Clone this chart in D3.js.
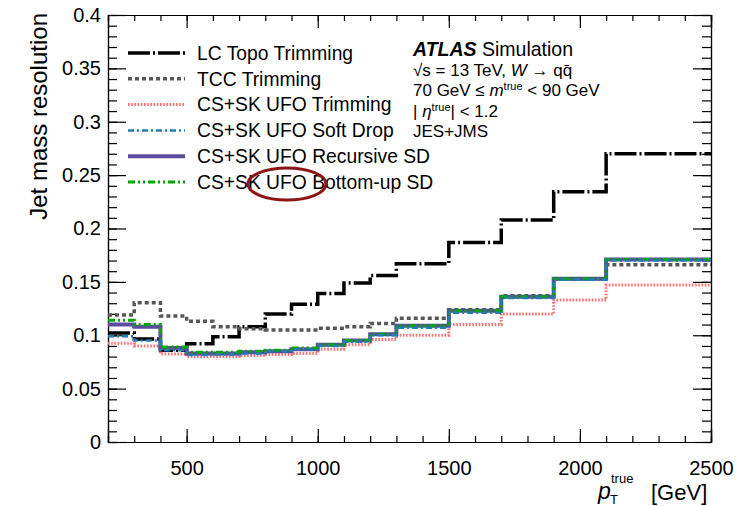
<!DOCTYPE html>
<html>
<head>
<meta charset="utf-8">
<script src="https://d3js.org/d3.v7.min.js"></script>
<style>
  body { margin: 0; background: #fff; }
  text { font-family: "Liberation Sans", Arial, sans-serif; fill: #000; }
</style>
</head>
<body>
<svg class="chart" width="750" height="506"></svg>
<script>
// bin edges in pT (GeV)
var binEdges = [200, 300, 400, 500, 600, 700, 800, 900, 1000, 1100, 1200, 1300, 1500, 1700, 1900, 2100, 2500];

// jet mass resolution per bin
var lcTopoTrim   = [0.102, 0.0965, 0.086, 0.092, 0.0985, 0.108, 0.120, 0.129, 0.139, 0.149, 0.156, 0.167, 0.187, 0.208, 0.2345, 0.270];
var tccTrim      = [0.119, 0.1305, 0.118, 0.113, 0.108, 0.106, 0.105, 0.105, 0.1065, 0.108, 0.111, 0.116, 0.124, 0.137, 0.153, 0.166];
var ufoTrim      = [0.0925, 0.090, 0.0825, 0.080, 0.080, 0.081, 0.082, 0.083, 0.087, 0.091, 0.096, 0.100, 0.110, 0.120, 0.133, 0.147];
var ufoSoftDrop  = [0.099, 0.095, 0.086, 0.0815, 0.082, 0.083, 0.085, 0.087, 0.090, 0.094, 0.100, 0.107, 0.121, 0.135, 0.152, 0.170];
var ufoRecSD     = [0.110, 0.108, 0.088, 0.083, 0.083, 0.084, 0.085, 0.087, 0.091, 0.095, 0.101, 0.109, 0.123, 0.136, 0.153, 0.171];
var ufoBottomUp  = [0.114, 0.110, 0.089, 0.084, 0.084, 0.085, 0.086, 0.088, 0.091, 0.095, 0.101, 0.109, 0.123, 0.136, 0.153, 0.171];

var seriesNames = ["LC Topo Trimming", "TCC Trimming", "CS+SK UFO Trimming", "CS+SK UFO Soft Drop", "CS+SK UFO Recursive SD", "CS+SK UFO Bottom-up SD"];

var xTicks = [500, 1000, 1500, 2000, 2500];
var yTicks = [0, 0.05, 0.1, 0.15, 0.2, 0.25, 0.3, 0.35, 0.4];

var series = [
  { name: seriesNames[0], values: lcTopoTrim,  color: "#000000", width: 3.5, dash: "22 3 2 3" },
  { name: seriesNames[1], values: tccTrim,     color: "#575757", width: 3.5, dash: "4 3" },
  { name: seriesNames[2], values: ufoTrim,     color: "#ff6f6f", width: 3,   dash: "1.6 1.6" },
  { name: seriesNames[4], values: ufoRecSD,    color: "#5b4c9e", width: 4,   dash: null },
  { name: seriesNames[5], values: ufoBottomUp, color: "#00a800", width: 3,   dash: "7 3 2 3 2 3" },
  { name: seriesNames[3], values: ufoSoftDrop, color: "#1f7fb0", width: 2.5, dash: "6 3 2 3" }
];
var legendOrder = [0, 1, 2, 5, 3, 4];

var svg = d3.select(".chart");

var x = d3.scaleLinear().domain([200, 2500]).range([108, 711]);
var y = d3.scaleLinear().domain([0, 0.4]).range([442, 15]);

var xMinor = d3.range(200, 2501, 100);
var yMinor = d3.range(0, 41, 1).map(d => d / 100);

// frame + ticks
function drawAxis(axis, tr) {
  var g = svg.append("g").attr("transform", tr).call(axis);
  g.select(".domain").attr("stroke", "#000").attr("stroke-width", 1.2);
  g.selectAll(".tick line").attr("stroke", "#000").attr("stroke-width", 1.2);
  return g;
}

// x minor ticks
drawAxis(d3.axisBottom(x).tickValues(xMinor).tickSize(-6).tickFormat(""), "translate(0,442)");
drawAxis(d3.axisTop(x).tickValues(xMinor).tickSize(-6).tickFormat(""), "translate(0,15)");
// x major ticks
var gx = drawAxis(d3.axisBottom(x).tickValues(xTicks).tickSize(-13).tickPadding(19).tickFormat(d3.format("d")), "translate(0,442)");
gx.selectAll(".tick text").attr("font-size", 20).attr("font-family", "Liberation Sans, Arial, sans-serif").attr("fill", "#000");
drawAxis(d3.axisTop(x).tickValues(xTicks).tickSize(-13).tickFormat(""), "translate(0,15)");

// y minor ticks
drawAxis(d3.axisLeft(y).tickValues(yMinor).tickSize(-9).tickFormat(""), "translate(108,0)");
drawAxis(d3.axisRight(y).tickValues(yMinor).tickSize(-9).tickFormat(""), "translate(711,0)");
// y major ticks
var gy = drawAxis(d3.axisLeft(y).tickValues(yTicks).tickSize(-18).tickPadding(7)
  .tickFormat(d => d === 0 ? "0" : String(+d.toFixed(2))), "translate(108,0)");
gy.selectAll(".tick text").attr("font-size", 20).attr("font-family", "Liberation Sans, Arial, sans-serif").attr("fill", "#000");
drawAxis(d3.axisRight(y).tickValues(yTicks).tickSize(-18).tickFormat(""), "translate(711,0)");

// histograms
var line = d3.line()
  .x(d => x(d[0]))
  .y(d => y(d[1]))
  .curve(d3.curveStepAfter);

function stepPoints(vals) {
  var pts = vals.map((v, i) => [binEdges[i], v]);
  pts.push([binEdges[binEdges.length - 1], vals[vals.length - 1]]);
  return pts;
}

svg.append("g").selectAll("path").data(series)
  .enter().append("path")
  .attr("d", d => line(stepPoints(d.values)))
  .attr("fill", "none")
  .attr("stroke", d => d.color)
  .attr("stroke-width", d => d.width)
  .attr("stroke-dasharray", d => d.dash);

// legend
var leg = svg.append("g");
legendOrder.forEach(function (si, i) {
  var s = series[si];
  var ly = 53 + i * 25.8;
  leg.append("line")
    .attr("x1", 128).attr("x2", 185).attr("y1", ly).attr("y2", ly)
    .attr("stroke", s.color).attr("stroke-width", s.width)
    .attr("stroke-dasharray", s.dash);
  leg.append("text")
    .attr("x", 197).attr("y", ly).attr("dy", "0.35em")
    .attr("font-size", 19.3)
    .text(s.name);
});

// hand-drawn ellipse around "UFO"
svg.append("ellipse")
  .attr("cx", 287).attr("cy", 184).attr("rx", 39).attr("ry", 16)
  .attr("fill", "none").attr("stroke", "#8b1414").attr("stroke-width", 3);

// ATLAS label
var info = svg.append("g").attr("font-size", 17);
var t1 = info.append("text").attr("x", 413).attr("y", 56).attr("font-size", 19.5);
t1.append("tspan").attr("font-weight", "bold").attr("font-style", "italic").text("ATLAS");
t1.append("tspan").text(" Simulation");

var t2 = info.append("text").attr("x", 413).attr("y", 76);
t2.append("tspan").text("\u221As = 13 TeV, ");
t2.append("tspan").attr("font-style", "italic").text("W");
t2.append("tspan").text(" \u2192 q\u0071\u0304");

var t3 = info.append("text").attr("x", 413).attr("y", 96);
t3.append("tspan").text("70 GeV \u2264 ");
t3.append("tspan").attr("font-style", "italic").text("m");
t3.append("tspan").attr("font-size", 11).attr("dy", -6).text("true");
t3.append("tspan").attr("dy", 6).text(" < 90 GeV");

var t4 = info.append("text").attr("x", 413).attr("y", 117);
t4.append("tspan").text("| ");
t4.append("tspan").attr("font-style", "italic").text("\u03B7");
t4.append("tspan").attr("font-size", 11).attr("dy", -6).text("true");
t4.append("tspan").attr("dy", 6).text("| < 1.2");

info.append("text").attr("x", 413).attr("y", 137).text("JES+JMS");

// axis titles
svg.append("text")
  .attr("transform", "translate(47,13) rotate(-90)")
  .attr("text-anchor", "end")
  .attr("font-size", 24)
  .text("Jet mass resolution");

svg.append("text").attr("x", 598).attr("y", 499).attr("font-size", 23).attr("font-style", "italic").text("p");
svg.append("text").attr("x", 610).attr("y", 504).attr("font-size", 13).text("T");
svg.append("text").attr("x", 611).attr("y", 483).attr("font-size", 13).text("true");
svg.append("text").attr("x", 651).attr("y", 500).attr("font-size", 22).text("[GeV]");
</script>
</body>
</html>
